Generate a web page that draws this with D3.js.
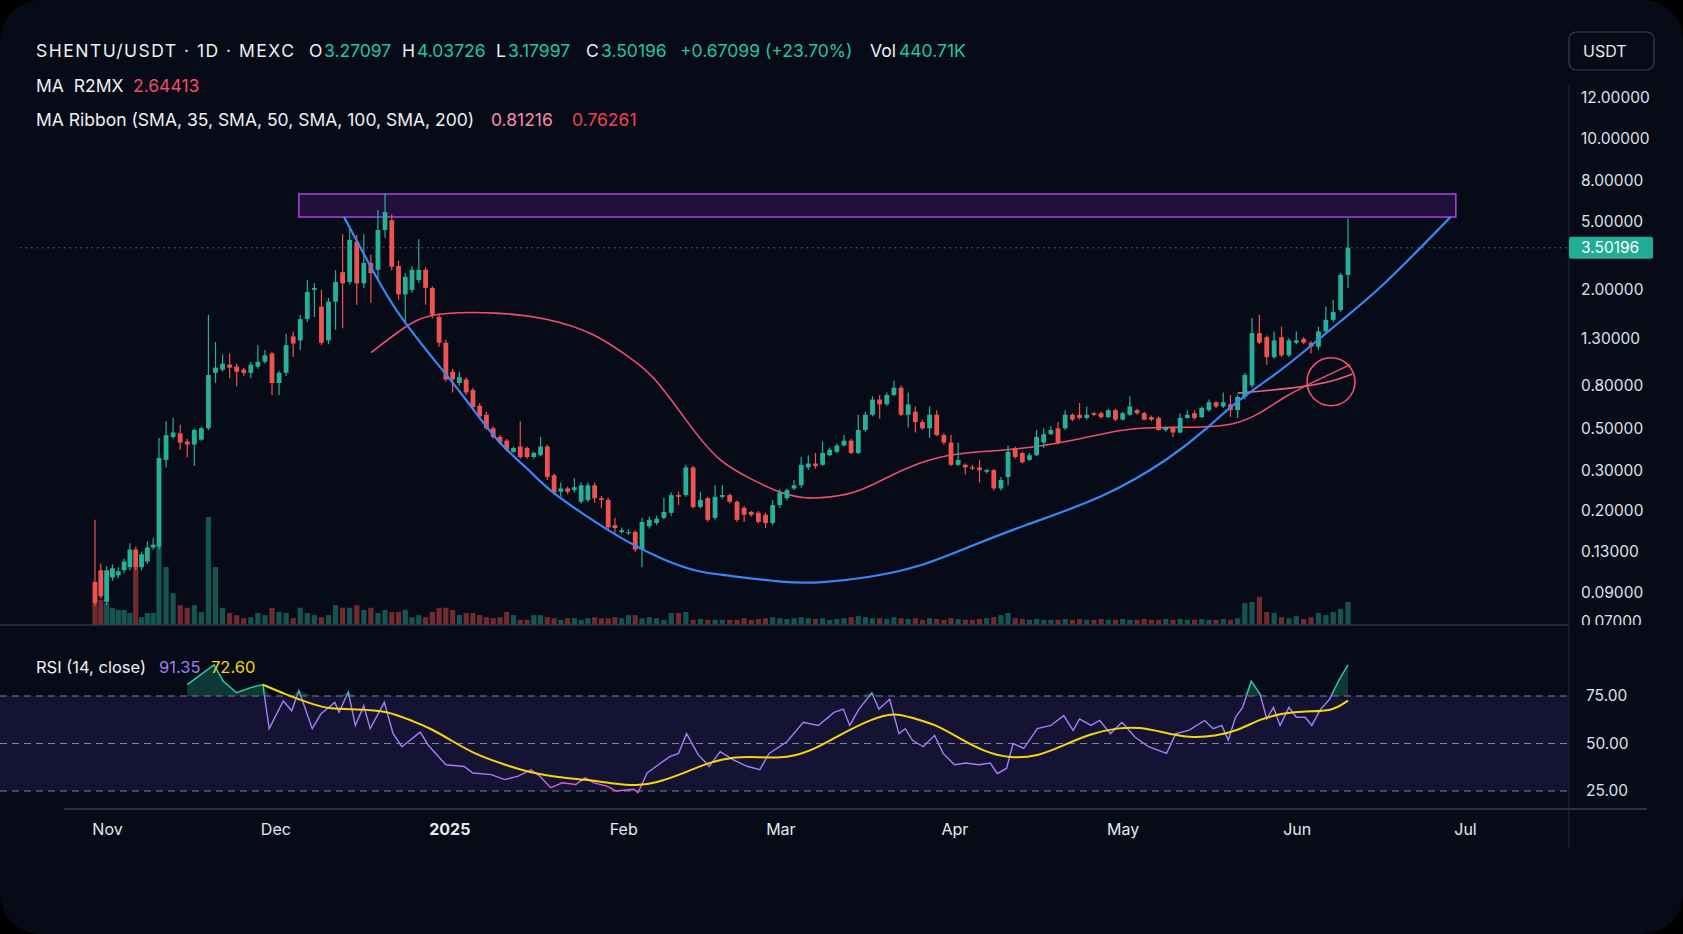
<!DOCTYPE html>
<html>
<head>
<meta charset="utf-8">
<script src="https://cdn.jsdelivr.net/npm/d3@7"></script>
<style>
  html, body { margin: 0; padding: 0; background: #000; }
  svg { display: block; }
  text { font-family: Inter, "Noto Sans", sans-serif; }
</style>
</head>
<body>
<div id="chart"></div>
<script>
// ---- data (day 1 = first candle) ----
const openP = [
  0.099,0.110,0.083,0.103,0.105,0.110,0.113,0.133,0.113,0.119,
  0.136,0.137,0.340,0.45,0.47,0.425,0.41,0.435,0.50,0.91,
  0.94,0.99,0.97,0.94,0.91,0.97,1.02,1.11,0.82,0.91,
  1.32,1.27,1.54,2.00,1.72,1.27,1.80,2.53,2.22,3.79,
  2.18,2.86,2.61,4.44,5.05,2.75,1.92,2.00,2.28,2.61,
  2.05,1.57,1.24,0.92,0.82,0.85,0.76,0.64,0.58,0.50,
  0.45,0.43,0.375,0.40,0.393,0.352,0.36,0.40,0.285,0.242,
  0.25,0.246,0.219,0.223,0.258,0.227,0.223,0.172,0.160,0.158,
  0.160,0.133,0.170,0.176,0.186,0.196,0.234,0.234,0.31,0.208,
  0.227,0.186,0.23,0.234,0.219,0.206,0.198,0.196,0.192,0.176,
  0.212,0.227,0.25,0.258,0.31,0.325,0.32,0.36,0.375,0.405,
  0.43,0.37,0.49,0.58,0.685,0.65,0.72,0.78,0.58,0.60,
  0.535,0.50,0.58,0.46,0.42,0.32,0.32,0.31,0.31,0.295,
  0.30,0.25,0.28,0.393,0.37,0.34,0.36,0.42,0.465,0.50,
  0.50,0.58,0.58,0.56,0.59,0.59,0.565,0.61,0.55,0.58,
  0.61,0.59,0.565,0.56,0.49,0.505,0.475,0.56,0.59,0.565,
  0.61,0.665,0.635,0.65,0.61,0.705,0.80,1.36,1.31,1.07,
  1.31,1.09,1.24,1.29,1.24,1.19,1.38,1.53,1.67,2.44
];
const highP = [
  0.182,0.117,0.114,0.116,0.113,0.122,0.142,0.137,0.130,0.145,
  0.150,0.444,0.54,0.56,0.52,0.44,0.50,0.51,1.60,1.25,
  1.10,1.11,1.00,0.96,1.02,1.21,1.15,1.13,0.93,1.35,
  1.38,1.60,2.28,2.18,2.00,1.86,2.60,4.20,4.65,4.15,
  4.20,3.20,5.68,6.90,5.40,2.95,2.50,2.75,3.93,2.70,
  2.10,1.62,1.28,0.95,0.92,0.87,0.78,0.66,0.60,0.51,
  0.46,0.44,0.40,0.54,0.40,0.375,0.45,0.41,0.29,0.265,
  0.255,0.277,0.265,0.265,0.265,0.232,0.228,0.186,0.168,0.165,
  0.163,0.186,0.188,0.19,0.228,0.24,0.242,0.32,0.315,0.242,
  0.23,0.258,0.258,0.238,0.222,0.21,0.20,0.20,0.196,0.223,
  0.248,0.25,0.272,0.352,0.36,0.37,0.425,0.395,0.415,0.46,
  0.44,0.58,0.60,0.71,0.72,0.74,0.84,0.80,0.74,0.635,
  0.55,0.635,0.61,0.47,0.46,0.42,0.325,0.32,0.34,0.305,
  0.305,0.28,0.405,0.40,0.375,0.37,0.49,0.50,0.51,0.535,
  0.61,0.59,0.66,0.635,0.60,0.60,0.62,0.62,0.60,0.71,
  0.62,0.60,0.575,0.57,0.51,0.51,0.59,0.61,0.61,0.635,
  0.685,0.67,0.74,0.72,0.72,0.91,1.56,1.60,1.33,1.38,
  1.44,1.30,1.38,1.31,1.26,1.44,1.72,1.83,2.50,5.15
];
const lowP = [
  0.080,0.085,0.081,0.100,0.102,0.107,0.110,0.110,0.110,0.116,
  0.133,0.133,0.31,0.44,0.385,0.35,0.315,0.43,0.49,0.82,
  0.92,0.86,0.79,0.88,0.86,0.95,1.00,0.72,0.72,0.88,
  1.07,1.15,1.50,1.57,1.21,1.22,1.40,1.42,2.15,1.75,
  2.05,1.78,2.28,4.00,2.60,1.83,1.48,1.95,2.20,1.75,
  1.55,1.19,0.83,0.74,0.80,0.72,0.61,0.55,0.49,0.44,
  0.41,0.375,0.37,0.345,0.345,0.345,0.355,0.272,0.235,0.23,
  0.236,0.24,0.215,0.218,0.217,0.206,0.165,0.158,0.157,0.155,
  0.130,0.113,0.166,0.172,0.183,0.19,0.212,0.23,0.205,0.205,
  0.178,0.182,0.226,0.215,0.178,0.178,0.188,0.175,0.167,0.172,
  0.206,0.222,0.246,0.252,0.30,0.305,0.315,0.355,0.37,0.40,
  0.365,0.365,0.48,0.57,0.555,0.64,0.71,0.57,0.505,0.475,
  0.49,0.444,0.455,0.41,0.315,0.315,0.287,0.30,0.265,0.29,
  0.245,0.245,0.258,0.345,0.325,0.335,0.355,0.393,0.46,0.41,
  0.49,0.54,0.55,0.55,0.57,0.555,0.56,0.54,0.545,0.57,
  0.58,0.545,0.54,0.485,0.48,0.45,0.47,0.555,0.55,0.56,
  0.60,0.625,0.625,0.565,0.56,0.69,0.78,1.22,0.99,1.05,
  1.07,1.07,1.22,1.22,1.11,1.15,1.35,1.50,1.64,2.05
];
const closeP = [
  0.082,0.087,0.110,0.112,0.109,0.119,0.133,0.113,0.127,0.136,
  0.140,0.348,0.46,0.475,0.42,0.41,0.49,0.50,0.89,0.96,
  1.00,0.96,0.92,0.91,0.99,1.02,1.09,0.82,0.91,1.21,
  1.23,1.54,1.96,2.05,1.24,1.80,2.22,2.18,3.89,2.18,
  2.86,2.50,4.44,5.55,2.72,1.92,2.38,2.61,2.61,2.05,
  1.60,1.24,0.85,0.85,0.87,0.74,0.63,0.57,0.50,0.45,
  0.42,0.385,0.393,0.352,0.352,0.37,0.40,0.28,0.24,0.25,
  0.242,0.253,0.258,0.258,0.227,0.223,0.168,0.167,0.163,0.160,
  0.133,0.178,0.182,0.184,0.198,0.234,0.23,0.31,0.208,0.223,
  0.182,0.23,0.234,0.219,0.182,0.192,0.192,0.178,0.176,0.212,
  0.24,0.246,0.258,0.32,0.325,0.315,0.37,0.385,0.405,0.43,
  0.37,0.49,0.58,0.685,0.65,0.72,0.78,0.58,0.65,0.535,
  0.50,0.58,0.46,0.42,0.32,0.34,0.31,0.307,0.30,0.30,
  0.25,0.272,0.375,0.352,0.33,0.36,0.45,0.465,0.49,0.42,
  0.58,0.55,0.56,0.58,0.58,0.565,0.61,0.55,0.59,0.635,
  0.59,0.55,0.55,0.49,0.505,0.475,0.56,0.58,0.56,0.625,
  0.665,0.635,0.665,0.61,0.705,0.89,1.36,1.24,1.07,1.27,
  1.09,1.27,1.27,1.24,1.19,1.38,1.53,1.64,2.44,3.50196
];
// volume in thousands
const volumeK = [
  420,480,420,330,290,290,230,1110,150,230,
  230,1500,1110,610,380,330,380,250,2070,1110,
  330,230,190,130,150,230,190,330,250,230,
  130,330,230,190,150,190,380,330,330,380,
  290,330,230,290,250,250,290,150,190,150,
  250,330,330,290,190,230,230,190,150,130,
  150,250,190,100,100,190,190,150,130,100,
  130,130,100,130,150,130,130,150,130,190,
  190,130,150,130,100,230,230,250,100,115,
  100,100,100,100,100,130,100,115,130,150,
  130,115,130,150,130,115,130,100,115,130,
  150,170,150,130,130,115,150,130,115,130,
  100,130,115,100,130,115,100,100,115,130,
  150,190,230,130,115,100,115,100,100,100,
  115,100,115,100,100,115,100,100,115,100,
  100,115,100,100,115,100,115,100,100,115,
  100,100,115,100,130,420,440,540,250,230,
  150,130,170,115,150,230,190,250,310,441
];

// moving averages / drawings as [day, price]
const maSlow = [[42,1.12],[46,1.38],[48.6,1.53],[51.8,1.63],[60.6,1.64],[67.8,1.56],[75.1,1.36],[80,1.07],
  [83.4,0.91],[88.7,0.505],[92.5,0.33],[97.2,0.272],[100.9,0.24],[104.2,0.226],[108,0.228],[112.2,0.242],
  [115.9,0.278],[120.6,0.33],[125.3,0.37],[134.6,0.385],[142.1,0.43],[149,0.495],[152.7,0.505],[160.5,0.505],
  [164.6,0.52],[167.9,0.58],[171.7,0.72],[176,0.85],[180.3,0.99]];
const maFast = [[165,0.735],[171.7,0.77],[177.4,0.82],[180.6,0.90]];
const cupCurve = [[38.2,5.25],[43.2,2.18],[46,1.60],[50.9,1.07],[55.7,0.71],[60.6,0.42],[65.4,0.30],[67.8,0.25],
  [75.1,0.177],[80,0.143],[84.8,0.121],[89.7,0.108],[92.5,0.106],[101.9,0.098],[106.6,0.098],[113.6,0.103],
  [120.6,0.113],[127.6,0.137],[134.6,0.169],[146.7,0.229],[155.9,0.352],[160.5,0.49],[165.1,0.685],
  [169.7,0.87],[174.2,1.14],[178.8,1.50],[184.3,2.0],[193.9,5.25]];
const zoneDays = [31.8, 194.6];
const zonePrices = [6.83, 5.24];
const circleAt = [177.7, 0.83];

// RSI as [day, value]
const rsi = [[16.0,81],[19.8,91.4],[21.1,82.8],[23.0,76.7],[24.9,79.3],[26.7,81],[27.6,57.8],[29.6,72.4],
  [30.8,67.2],[31.8,77.9],[33.7,57.8],[34.9,65.5],[36.9,71.6],[37.5,66.4],[38.8,77.1],[39.8,59.5],[41.0,69.8],
  [41.9,57.8],[43.9,71.6],[45.2,55.2],[46.5,48.3],[49.2,56],[50.4,49.1],[53.0,38.8],[55.7,37.9],[57.0,34.5],
  [59.7,33.6],[61.7,31],[63.7,32.8],[65.6,36.2],[66.9,32.8],[68.5,26.7],[70.2,29.3],[72.2,28.4],[73.6,31.9],
  [74.9,29.3],[76.8,27.6],[78.2,25],[80.8,25.9],[81.4,24.1],[82.7,34.5],[83.9,37.9],[85.8,43.1],[87.0,44.8],
  [88.1,55.2],[89.7,44],[91.2,38],[92.7,45.7],[94.5,41.4],[96.4,38],[98.2,36.2],[99.5,44.8],[102.0,50.9],
  [104.3,61.2],[106.4,59.5],[108.6,66.4],[109.9,68.1],[110.8,59.5],[112.1,68.1],[113.9,76.7],[114.9,68.1],
  [116.4,73.3],[117.7,55.2],[118.6,57.8],[119.6,51.7],[121.1,48.3],[122.7,54.3],[123.9,44.8],[125.5,38.8],
  [127.1,39.7],[128.9,38.8],[130.5,39.7],[131.5,34.1],[132.8,37],[133.7,50],[135.2,47.4],[137.1,57.8],
  [139.0,59.5],[140.8,64.7],[142.1,56.9],[143.0,62.9],[144.6,59.5],[145.8,62.1],[147.3,55.2],[148.9,61.2],
  [150.7,53.4],[152.6,48.3],[155.1,44.8],[156.4,55.2],[158.2,56.9],[160.4,62.1],[161.6,57.8],[162.8,59.5],
  [163.7,51.7],[164.7,63.8],[165.7,69],[166.9,82.8],[168.1,75.9],[169.0,62.9],[169.9,69],[170.8,59.5],
  [172.0,69],[173.0,63.8],[174.2,63.8],[175.1,59.5],[176.3,68.1],[177.5,73.3],[178.7,82.8],[180,91.35]];
const rsiMa = [[26.7,81],[29.9,75.9],[33.7,70.7],[36.2,68.1],[40.0,68.1],[44.4,67.2],[47.8,62.1],[50.4,58.6],
  [53.8,51.7],[57.0,44.8],[61.7,38.8],[65.6,34.5],[69.6,32.2],[73.6,31],[77.5,29],[81.4,27.6],[83.9,29.3],
  [87.2,33.6],[90.9,39.7],[94.5,43.1],[98.2,42.8],[102.0,42.2],[105.8,46.6],[110.1,56],[113.9,62.9],
  [117.0,66.4],[119.6,63.4],[122.7,60.3],[125.9,53.4],[129.6,45.7],[133.3,42.2],[137.1,43.1],[140.8,49.1],
  [144.6,55.2],[148.3,58.3],[151.4,58.6],[154.5,56],[158.2,52.9],[161.9,53.8],[165.1,56.9],[168.1,62.9],
  [171.2,65.9],[174.2,67.2],[177.8,66.7],[180,72.6]];

const priceTicks = [12, 10, 8, 5, 2, 1.3, 0.8, 0.5, 0.3, 0.2, 0.13, 0.09, 0.07];
const rsiTicks = [25, 50, 75];
const months = [new Date(2024, 10, 1), new Date(2025, 6, 1)];
const ohlcLegend = ["3.27097", "4.03726", "3.17997", "3.50196", "+0.67099 (+23.70%)", "440.71K"];

const candles = openP.map((o, i) => ({
  day: i + 1, open: o, high: highP[i], low: lowP[i], close: closeP[i], vol: volumeK[i]
}));
const last = candles[candles.length - 1];

// ---- layout ----
const W = 1683, H = 934;
const UP = "#26b09a", DOWN = "#ef5350";
const axisX = 1569, paneBottom = 625;

const svg = d3.select("#chart").append("svg").attr("width", W).attr("height", H);
svg.append("rect").attr("width", W).attr("height", H).attr("fill", "#000");
svg.append("rect").attr("width", W).attr("height", H).attr("rx", 40).attr("fill", "#070b17");

// candle spacing in the picture is not quite even, so the day scale is piecewise
const x = d3.scaleLinear().domain([1, 12, 44, 82, 95, 140, 167, 180])
  .range([95, 159, 385, 642, 737, 1058, 1252, 1348]);
const y = d3.scaleLog().domain(priceTicks)
  .range([97.7, 138.5, 180.3, 221.1, 289.8, 338.1, 385.4, 428.3, 470.1, 510.9, 551.7, 592.5, 621.5]);
const yVol = d3.scaleLinear().domain([0, 2300]).range([paneBottom, paneBottom - 120]);
const yR = d3.scaleLinear().domain([25, 75]).range([791, 696]);
const xTime = d3.scaleTime().domain(months).range([107, 1465]);

const defs = svg.append("defs");
defs.append("clipPath").attr("id", "mainClip")
  .append("rect").attr("x", 0).attr("y", 0).attr("width", axisX).attr("height", paneBottom);
defs.append("clipPath").attr("id", "axisClip")
  .append("rect").attr("x", 0).attr("y", 0).attr("width", W).attr("height", paneBottom);

const main = svg.append("g").attr("clip-path", "url(#mainClip)");

// volume
main.append("g").selectAll("rect").data(candles).join("rect")
  .attr("x", d => x(d.day) - 2.6)
  .attr("width", 5.2)
  .attr("y", d => yVol(d.vol))
  .attr("height", d => paneBottom - yVol(d.vol))
  .attr("fill", d => d.close >= d.open ? UP : DOWN)
  .attr("opacity", 0.45);

// resistance zone
main.append("rect")
  .attr("x", x(zoneDays[0])).attr("width", x(zoneDays[1]) - x(zoneDays[0]))
  .attr("y", y(zonePrices[0])).attr("height", y(zonePrices[1]) - y(zonePrices[0]))
  .attr("fill", "#5a2290").attr("fill-opacity", 0.3)
  .attr("stroke", "#a43fd8").attr("stroke-width", 1.6);

// last price line
main.append("line")
  .attr("x1", 20).attr("x2", axisX)
  .attr("y1", y(last.close)).attr("y2", y(last.close))
  .attr("stroke", "#26a69a").attr("stroke-width", 1).attr("stroke-dasharray", "1.5,4").attr("opacity", 0.8);

// MA lines
const priceLine = d3.line().x(d => x(d[0])).y(d => y(d[1])).curve(d3.curveBasis);
main.append("path").datum(maSlow).attr("d", priceLine)
  .attr("fill", "none").attr("stroke", "#ee4f6e").attr("stroke-width", 1.6);
main.append("path").datum(maFast).attr("d", priceLine)
  .attr("fill", "none").attr("stroke", "#f0607c").attr("stroke-width", 1.6);

// candles
const cg = main.append("g").selectAll("g").data(candles).join("g")
  .attr("fill", d => d.close >= d.open ? UP : DOWN)
  .attr("stroke", d => d.close >= d.open ? UP : DOWN);
cg.append("line")
  .attr("x1", d => x(d.day)).attr("x2", d => x(d.day))
  .attr("y1", d => y(d.high)).attr("y2", d => y(d.low))
  .attr("stroke-width", 1.2);
cg.append("rect")
  .attr("x", d => x(d.day) - 2.4).attr("width", 4.8)
  .attr("y", d => y(Math.max(d.open, d.close)))
  .attr("height", d => Math.max(1.2, Math.abs(y(d.open) - y(d.close))))
  .attr("stroke", "none");

// cup curve
main.append("path").datum(cupCurve).attr("d", priceLine)
  .attr("fill", "none").attr("stroke", "#3b86f5").attr("stroke-width", 2.2);

// circle marker
main.append("circle")
  .attr("cx", x(circleAt[0])).attr("cy", y(circleAt[1])).attr("r", 24)
  .attr("fill", "none").attr("stroke", "#ee4f6e").attr("stroke-width", 1.6);

// pane borders
svg.append("line").attr("x1", 0).attr("x2", axisX).attr("y1", paneBottom).attr("y2", paneBottom)
  .attr("stroke", "#30354a").attr("stroke-width", 1.5);
svg.append("line").attr("x1", axisX).attr("x2", axisX).attr("y1", 85).attr("y2", 847)
  .attr("stroke", "#262b3b").attr("stroke-width", 1);
svg.append("line").attr("x1", 64).attr("x2", 1647).attr("y1", 809).attr("y2", 809)
  .attr("stroke", "#2a2f42").attr("stroke-width", 2);

// price axis
const pa = svg.append("g").attr("clip-path", "url(#axisClip)")
  .append("g").attr("transform", `translate(${axisX},0)`)
  .call(d3.axisRight(y).tickValues(priceTicks).tickFormat(d3.format(".5f")).tickSize(0).tickPadding(12));
pa.select(".domain").remove();
pa.selectAll("text").attr("fill", "#dfe2ea").attr("font-size", 15.5).attr("font-family", "Inter, sans-serif");

// last price label
svg.append("rect").attr("x", axisX).attr("y", y(last.close) - 11).attr("width", 84).attr("height", 22)
  .attr("rx", 2).attr("fill", "#20ad95");
svg.append("text").attr("x", axisX + 12).attr("y", y(last.close) + 5.5)
  .attr("fill", "#ffffff").attr("font-size", 15.5).text(d3.format(".5f")(last.close));

// currency button
svg.append("rect").attr("x", 1569).attr("y", 32).attr("width", 85).attr("height", 38).attr("rx", 7)
  .attr("fill", "none").attr("stroke", "#3a3f50").attr("stroke-width", 1.2);
svg.append("text").attr("x", 1583).attr("y", 57).attr("fill", "#e6e8ee").attr("font-size", 16).text("USDT");

// RSI pane
svg.append("rect").attr("x", 0).attr("width", axisX)
  .attr("y", yR(75)).attr("height", yR(25) - yR(75)).attr("fill", "#17153a").attr("opacity", 0.85);
svg.append("g").selectAll("line").data(rsiTicks).join("line")
  .attr("x1", 0).attr("x2", axisX).attr("y1", d => yR(d)).attr("y2", d => yR(d))
  .attr("stroke", "#7f8198").attr("stroke-width", 1.2).attr("stroke-dasharray", "7,5");

svg.append("path").datum(rsi)
  .attr("d", d3.area().x(d => x(d[0])).y0(yR(75)).y1(d => yR(Math.max(75, d[1]))))
  .attr("fill", "#1d8c6c").attr("opacity", 0.35);

const rg = defs.append("linearGradient").attr("id", "rsiGrad")
  .attr("gradientUnits", "userSpaceOnUse").attr("x1", 0).attr("x2", 0).attr("y1", yR(100)).attr("y2", yR(0));
[[0, "#2ec9a2"], [0.22, "#2ec9a2"], [0.26, "#a47ef2"], [0.66, "#a47ef2"], [0.72, "#e05ccf"], [1, "#e05ccf"]]
  .forEach(s => rg.append("stop").attr("offset", s[0]).attr("stop-color", s[1]));

svg.append("path").datum(rsi)
  .attr("d", d3.line().x(d => x(d[0])).y(d => yR(d[1])))
  .attr("fill", "none").attr("stroke", "url(#rsiGrad)").attr("stroke-width", 1.4);
svg.append("path").datum(rsiMa)
  .attr("d", d3.line().x(d => x(d[0])).y(d => yR(d[1])).curve(d3.curveBasis))
  .attr("fill", "none").attr("stroke", "#f3d60c").attr("stroke-width", 2);

const ra = svg.append("g").attr("transform", `translate(${axisX},0)`)
  .call(d3.axisRight(yR).tickValues(rsiTicks).tickFormat(d3.format(".2f")).tickSize(0).tickPadding(17));
ra.select(".domain").remove();
ra.selectAll("text").attr("fill", "#dfe2ea").attr("font-size", 15.5).attr("font-family", "Inter, sans-serif");

// time axis
const ta = svg.append("g").attr("transform", "translate(0,812)")
  .call(d3.axisBottom(xTime).ticks(d3.timeMonth.every(1)).tickSize(0).tickPadding(12)
    .tickFormat(d => d.getMonth() === 0 ? d3.timeFormat("%Y")(d) : d3.timeFormat("%b")(d)));
ta.select(".domain").remove();
ta.selectAll("text").attr("fill", "#e6e8ee").attr("font-size", 16).attr("font-family", "Inter, sans-serif")
  .attr("font-weight", d => d.getMonth() === 0 ? 700 : 400);

// legends
const TEAL = "#22c4a1", WHITE = "#eef0f4";
function legend(yPos, parts) {
  parts.forEach(p => {
    const t = svg.append("text").attr("x", p[0]).attr("y", yPos).attr("fill", p[2])
      .attr("font-size", 17.5).style("white-space", "pre").text(p[1]);
    if (p[3]) t.attr("textLength", p[3]).attr("lengthAdjust", "spacing");
  });
}
legend(57, [
  [36, "SHENTU/USDT · 1D · MEXC", WHITE, 258],
  [309, "O", WHITE], [324, ohlcLegend[0], TEAL],
  [402, "H", WHITE], [417, ohlcLegend[1], TEAL],
  [496, "L", WHITE], [508, ohlcLegend[2], TEAL],
  [586, "C", WHITE], [601, ohlcLegend[3], TEAL],
  [680, ohlcLegend[4], TEAL],
  [870, "Vol", WHITE], [899, ohlcLegend[5], TEAL]
]);
legend(92, [[36, "MA  R2MX", WHITE], [133, "2.64413", "#f04a64"]]);
legend(126, [[36, "MA Ribbon (SMA, 35, SMA, 50, SMA, 100, SMA, 200)", WHITE],
  [491, "0.81216", "#f58fae"], [572, "0.76261", "#f0405a"]]);
svg.append("text").attr("x", 36).attr("y", 673).attr("fill", WHITE).attr("font-size", 16.5).text("RSI (14, close)");
svg.append("text").attr("x", 159).attr("y", 673).attr("fill", "#a07cf0").attr("font-size", 16.5)
  .text(d3.format(".2f")(rsi[rsi.length - 1][1]));
svg.append("text").attr("x", 211).attr("y", 673).attr("fill", "#f3d60c").attr("font-size", 16.5)
  .text(d3.format(".2f")(rsiMa[rsiMa.length - 1][1]));
</script>
</body>
</html>
